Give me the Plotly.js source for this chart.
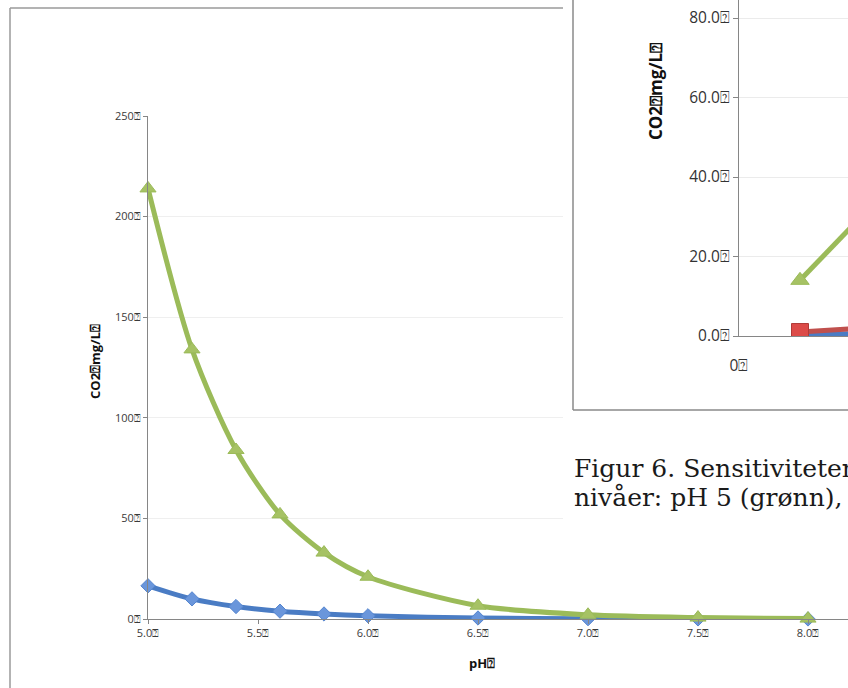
<!DOCTYPE html>
<html>
<head>
<meta charset="utf-8">
<script src="https://cdn.plot.ly/plotly-3.0.1.min.js"></script>
<style>html,body{margin:0;padding:0;background:#fff;}#chart{width:848px;height:688px;}</style>
</head>
<body>
<div id="chart"></div>
<script>
// ---- data (main chart) ----
var phValues = [5.0, 5.2, 5.4, 5.6, 5.8, 6.0, 6.5, 7.0, 7.5, 8.0];
var co2Green = [214, 134, 84, 52, 33, 21, 6.6, 2.1, 0.7, 0.2];
var co2Blue = [16.5, 10, 6.2, 3.9, 2.5, 1.6, 0.5, 0.16, 0.05, 0.02];
var xTickVals = [5.0, 5.5, 6.0, 6.5, 7.0, 7.5, 8.0];
var xTickText = ["5.0\u2370", "5.5\u2370", "6.0\u2370", "6.5\u2370", "7.0\u2370", "7.5\u2370", "8.0\u2370"];
var yTickVals = [0, 50, 100, 150, 200, 250];
var yTickText = ["0\u2370", "50\u2370", "100\u2370", "150\u2370", "200\u2370", "250\u2370"];
// ---- data (inset chart, partly visible) ----
var insetX = [1, 2];
var insetGreen = [14, 30];
var insetRed = [1.0, 2.0];
var insetBlue = [0.3, 0.6];
var insetYTickVals = [0, 20, 40, 60, 80];
var insetYTickText = ["0.0\u2370", "20.0\u2370", "40.0\u2370", "60.0\u2370", "80.0\u2370"];
var insetXTickVals = [0];
var insetXTickText = ["0\u2370"];
var yTitle = "CO2\u2370mg/L\u2370";
var xTitle = "pH\u2370";
var captionLines = ["Figur 6. Sensitiviteten", "niv\u00e5er: pH 5 (gr\u00f8nn),"];

var W = 848, H = 688;
function px(x) { return x / W; }
function py(y) { return 1 - y / H; }

var tickFont = {family: "Open Sans, Liberation Sans, sans-serif", size: 11, color: "#3a3a3a"};
var insetTickFont = {family: "Open Sans, Liberation Sans, sans-serif", size: 15.5, color: "#333"};

var traces = [
  {x: phValues, y: co2Blue, type: "scatter", mode: "lines+markers", xaxis: "x", yaxis: "y",
   line: {color: "#4a7cc4", width: 5, shape: "spline", smoothing: 0.8},
   marker: {symbol: "diamond", size: 11, color: "#6a96db", line: {color: "#5585cf", width: 1}}, cliponaxis: false},
  {x: phValues, y: co2Green, type: "scatter", mode: "lines+markers", xaxis: "x", yaxis: "y",
   line: {color: "#9bbb59", width: 5, shape: "spline", smoothing: 0.8},
   marker: {symbol: "triangle-up", size: 14, color: "#a6c264", line: {color: "#9bbb59", width: 1}}, cliponaxis: false},
  {x: [], y: [], type: "scatter", mode: "markers", xaxis: "x2", yaxis: "y2", hoverinfo: "skip"},
  {x: insetX, y: insetBlue, type: "scatter", mode: "lines", xaxis: "x3", yaxis: "y3",
   line: {color: "#4a7cc4", width: 5}},
  {x: insetX, y: insetRed, type: "scatter", mode: "lines+markers", xaxis: "x3", yaxis: "y3",
   line: {color: "#c0504d", width: 5},
   marker: {symbol: "square", size: 17, color: "#dc4b48", line: {color: "#b03a37", width: 1}}},
  {x: insetX, y: insetGreen, type: "scatter", mode: "lines+markers", xaxis: "x3", yaxis: "y3",
   line: {color: "#9bbb59", width: 5},
   marker: {symbol: "triangle-up", size: 16, color: "#a6c264", line: {color: "#9bbb59", width: 1}}}
];

var layout = {
  width: W, height: H,
  margin: {l: 0, r: 0, t: 0, b: 0, pad: 0},
  paper_bgcolor: "#ffffff", plot_bgcolor: "#ffffff",
  showlegend: false,
  xaxis: {domain: [px(148), 1], range: [5, 5 + 700 / 220], anchor: "y",
          tickvals: xTickVals, ticktext: xTickText, tickfont: tickFont,
          showgrid: false, zeroline: false, showline: true, linecolor: "#868686", linewidth: 1,
          ticks: "outside", ticklen: 4, tickcolor: "#868686"},
  yaxis: {domain: [py(619), py(116)], range: [0, 250], anchor: "x",
          tickvals: yTickVals, ticktext: yTickText, tickfont: tickFont,
          showgrid: true, gridcolor: "#efefef", zeroline: false, showline: true, linecolor: "#868686", linewidth: 1,
          ticks: "outside", ticklen: 4, tickcolor: "#868686"},
  xaxis2: {domain: [px(563), 1], anchor: "y2", visible: false, range: [0, 1]},
  yaxis2: {domain: [py(525), 1], anchor: "x2", visible: false, range: [0, 1]},
  xaxis3: {domain: [px(739), 1], range: [0, 109 / 61], anchor: "y3",
           tickvals: insetXTickVals, ticktext: insetXTickText, tickfont: insetTickFont,
           showgrid: false, zeroline: false, showline: true, linecolor: "#868686", linewidth: 1,
           ticks: "", ticklabelstandoff: 15},
  yaxis3: {domain: [py(336), 1], range: [0, 336 / 3.975], anchor: "x3",
           tickvals: insetYTickVals, ticktext: insetYTickText, tickfont: insetTickFont,
           showgrid: true, gridcolor: "#ebebeb", zeroline: false, showline: true, linecolor: "#868686", linewidth: 1,
           ticks: "outside", ticklen: 5, tickcolor: "#868686"},
  shapes: [
    {type: "line", xref: "paper", yref: "paper", x0: px(10), x1: px(563), y0: py(8), y1: py(8), line: {color: "#9a9a9a", width: 1.5}, layer: "above"},
    {type: "line", xref: "paper", yref: "paper", x0: px(10), x1: px(10), y0: py(8), y1: 0, line: {color: "#9a9a9a", width: 1.5}, layer: "above"},
    {type: "line", xref: "paper", yref: "paper", x0: px(573), x1: px(573), y0: 1, y1: py(410), line: {color: "#8a8a8a", width: 1.5}, layer: "above"},
    {type: "line", xref: "paper", yref: "paper", x0: px(573), x1: 1, y0: py(410), y1: py(410), line: {color: "#8a8a8a", width: 1.5}, layer: "above"}
  ],
  annotations: [
    {text: "<b>" + yTitle + "</b>", xref: "paper", yref: "paper", x: px(95), y: py(362), textangle: -90,
     showarrow: false, xanchor: "center", yanchor: "middle", font: {family: "Open Sans, Liberation Sans, sans-serif", size: 13, color: "#111"}},
    {text: "<b>" + xTitle + "</b>", xref: "paper", yref: "paper", x: px(482), y: py(663),
     showarrow: false, xanchor: "center", yanchor: "middle", font: {family: "Open Sans, Liberation Sans, sans-serif", size: 13, color: "#111"}},
    {text: "<b>" + yTitle + "</b>", xref: "paper", yref: "paper", x: px(655), y: py(92), textangle: -90,
     showarrow: false, xanchor: "center", yanchor: "middle", font: {family: "Open Sans, Liberation Sans, sans-serif", size: 17, color: "#111"}},
    {text: captionLines[0], xref: "paper", yref: "paper", x: px(572), y: py(468),
     showarrow: false, xanchor: "left", yanchor: "middle", font: {family: "DejaVu Serif, serif", size: 25, color: "#1a1a1a"}},
    {text: captionLines[1], xref: "paper", yref: "paper", x: px(572), y: py(498),
     showarrow: false, xanchor: "left", yanchor: "middle", font: {family: "DejaVu Serif, serif", size: 25, color: "#1a1a1a"}}
  ]
};

Plotly.newPlot("chart", traces, layout, {staticPlot: true, displayModeBar: false});
</script>
</body>
</html>
